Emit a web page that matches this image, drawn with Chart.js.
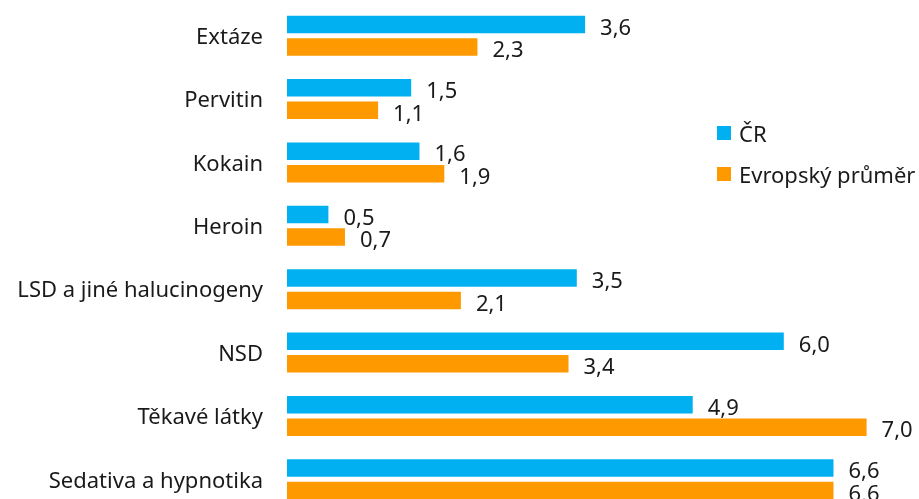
<!DOCTYPE html>
<html>
<head>
<meta charset="utf-8">
<script src="https://cdn.jsdelivr.net/npm/chart.js@4"></script>
<style>
  html, body { margin: 0; padding: 0; background: #fff; overflow: hidden; }
  #wrap { position: relative; width: 919px; height: 511px; }
  #legend { position: absolute; left: 717px; top: 112px; font-family: "Noto Sans", sans-serif; font-size: 22px; color: #1a1a1a; white-space: nowrap; }
  #legend div { height: 41px; display: flex; align-items: center; }
  #legend span.box { width: 14px; height: 14px; margin-right: 8px; display: inline-block; }
</style>
</head>
<body>
<div id="wrap">
  <canvas id="c"></canvas>
  <div id="legend"></div>
</div>
<script>
const categories = ['Extáze', 'Pervitin', 'Kokain', 'Heroin', 'LSD a jiné halucinogeny', 'NSD', 'Těkavé látky', 'Sedativa a hypnotika'];
const cr = [3.6, 1.5, 1.6, 0.5, 3.5, 6.0, 4.9, 6.6];
const eu = [2.3, 1.1, 1.9, 0.7, 2.1, 3.4, 7.0, 6.6];
const seriesNames = ['ČR', 'Evropský průměr'];
const colors = ['#00B0F0', '#FF9900'];

const FONT = '"Noto Sans", sans-serif';

// value labels next to bar ends, decimal comma
const valueLabels = {
    id: 'valueLabels',
    afterDatasetsDraw(chart) {
        const ctx = chart.ctx;
        ctx.save();
        ctx.font = '22px ' + FONT;
        ctx.fillStyle = '#1a1a1a';
        ctx.textBaseline = 'middle';
        ctx.textAlign = 'left';
        chart.data.datasets.forEach((ds, i) => {
            chart.getDatasetMeta(i).data.forEach((el, j) => {
                ctx.fillText(ds.data[j].toFixed(1).replace('.', ','), el.x + 15, el.y + 4);
            });
        });
        ctx.restore();
    }
};

const chart = new Chart(document.getElementById('c'), {
    type: 'bar',
    data: {
        labels: categories,
        datasets: [
            { label: seriesNames[0], data: cr, backgroundColor: colors[0] },
            { label: seriesNames[1], data: eu, backgroundColor: colors[1] }
        ]
    },
    options: {
        indexAxis: 'y',
        responsive: true,
        maintainAspectRatio: false,
        animation: false,
        categoryPercentage: 0.711,
        barPercentage: 0.78,
        layout: { padding: { top: 4, right: 11, left: 0, bottom: 0 } },
        plugins: { legend: { display: false }, tooltip: { enabled: false } },
        scales: {
            x: { min: 0, max: 7.5, display: false },
            y: {
                grid: { display: false, drawTicks: false },
                border: { display: false },
                ticks: { color: '#1a1a1a', font: { family: FONT, size: 22 }, padding: 24, labelOffset: 2 },
                afterFit(s) { s.width = 287; s.paddingTop = 0; s.paddingBottom = 0; }
            }
        }
    },
    plugins: [valueLabels]
});

const legend = document.getElementById('legend');
chart.data.datasets.forEach(ds => {
    const row = document.createElement('div');
    row.innerHTML = '<span class="box" style="background:' + ds.backgroundColor + '"></span>' + ds.label;
    legend.appendChild(row);
});
</script>
</body>
</html>
